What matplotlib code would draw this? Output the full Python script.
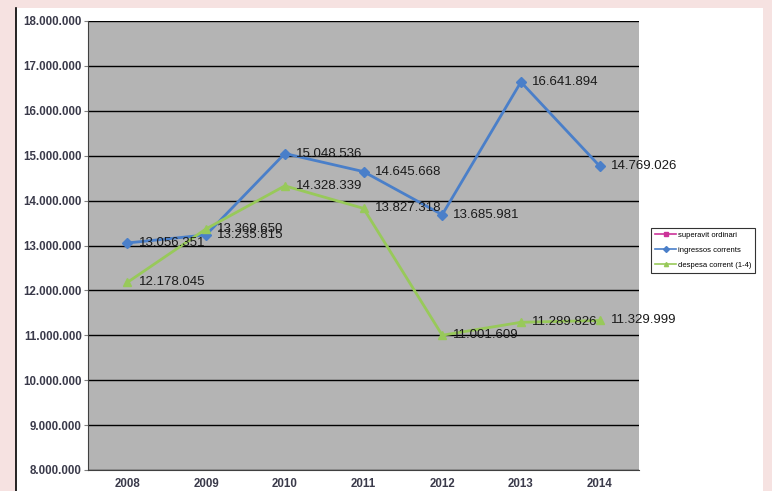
import numpy as np
from matplotlib import pyplot as plt
from matplotlib.patches import Rectangle
from matplotlib.lines import Line2D

plt.rcParams["font.family"] = ["Liberation Sans", "DejaVu Sans"]

anys = ["2008", "2009", "2010", "2011", "2012", "2013", "2014"]
ingressos = [13056351, 13235815, 15048536, 14645668, 13685981, 16641894, 14769026]
despesa = [12178045, 13369650, 14328339, 13827318, 11001609, 11289826, 11329999]


def fmt(v):
    return f"{v:,}".replace(",", ".")


fig = plt.figure(figsize=(7.72, 4.91), dpi=100, facecolor="#f6e2e1")
# panell blanc
fig.patches.append(Rectangle((16 / 772, 0), (763 - 16) / 772, 1 - 8 / 491,
                             transform=fig.transFigure, facecolor="white",
                             edgecolor="none", zorder=-5))
fig.add_artist(Line2D([16 / 772, 16 / 772], [0, 1 - 8 / 491], color="black",
                      lw=1.2, transform=fig.transFigure, zorder=-4))

ax = fig.add_axes([88 / 772, 1 - 470 / 491, 551 / 772, (470 - 21) / 491])
ax.set_facecolor("#b4b4b4")
x = np.arange(len(anys))

ax.plot(x, ingressos, color="#4a7fc9", lw=2, marker="D", ms=5, zorder=3)
ax.plot(x, despesa, color="#98c95a", lw=2, marker="^", ms=6, zorder=3)

for xi, v in zip(x, ingressos):
    ax.annotate(fmt(v), (xi, v), xytext=(8, 0), textcoords="offset points",
                va="center", fontsize=9.5, color="#1a1a1a", zorder=4)
for xi, v in zip(x, despesa):
    ax.annotate(fmt(v), (xi, v), xytext=(8, 0), textcoords="offset points",
                va="center", fontsize=9.5, color="#1a1a1a", zorder=4)

ax.set_xlim(-0.5, 6.5)
ax.set_ylim(8000000, 18000000)
ax.set_yticks(np.arange(8000000, 18000001, 1000000))
ax.set_yticklabels([fmt(int(t)) for t in ax.get_yticks()])
ax.set_xticks(x)
ax.set_xticklabels(anys)
ax.yaxis.grid(True, color="black", lw=1)
ax.set_axisbelow(True)
ax.tick_params(axis="y", length=3, color="#808080", labelsize=8.3, labelcolor="#3a3a4a", pad=1.5)
ax.tick_params(axis="x", length=0, labelsize=8.3, labelcolor="#3a3a4a", pad=6)
for lab in ax.get_xticklabels() + ax.get_yticklabels():
    lab.set_fontweight("bold")
for s in ["top", "right"]:
    ax.spines[s].set_visible(False)
ax.spines["left"].set_color("#404040")
ax.spines["bottom"].set_color("#404040")

handles = [
    Line2D([], [], color="#cc3399", marker="s", ms=3, lw=1.2),
    Line2D([], [], color="#4a7fc9", marker="D", ms=3, lw=1.2),
    Line2D([], [], color="#98c95a", marker="^", ms=3, lw=1.2),
]
leg = fig.legend(handles, ["superavit ordinari", "ingressos corrents", "despesa corrent (1-4)"],
                 loc="upper left", bbox_to_anchor=(651 / 772, 1 - 228 / 491),
                 fontsize=5.5, frameon=True, fancybox=False, edgecolor="black",
                 handlelength=2.8, borderpad=0.5, labelspacing=1.0, handletextpad=0.2,
                 borderaxespad=0)
leg.get_frame().set_linewidth(0.8)

plt.savefig("out.png", dpi=100, facecolor=fig.get_facecolor())
